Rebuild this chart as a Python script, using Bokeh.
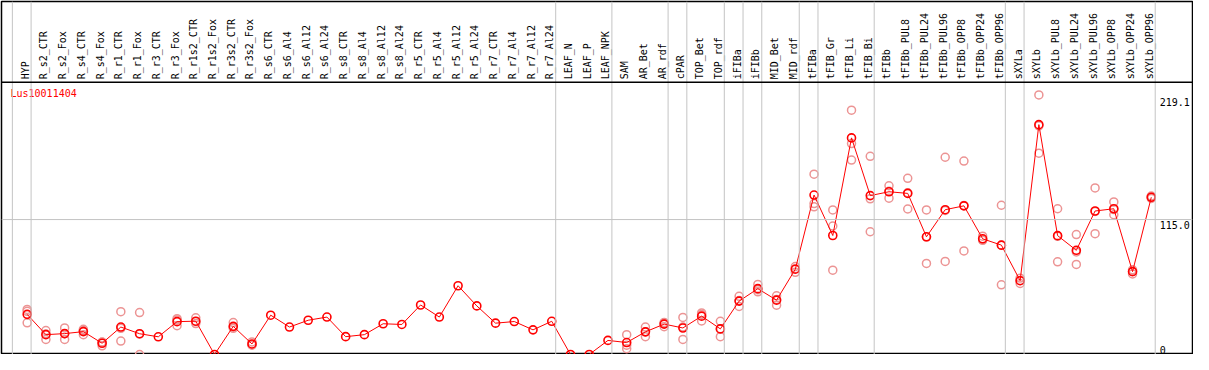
import math
from bokeh.plotting import figure
from bokeh.models import Range1d, Span, ColumnDataSource
from bokeh.core.properties import value
from bokeh.embed import file_html
from bokeh.resources import INLINE

nan = float("nan")

categories = [
    "HYP", "R_s2_CTR", "R_s2_Fox", "R_s4_CTR", "R_s4_Fox", "R_r1_CTR", "R_r1_Fox",
    "R_r3_CTR", "R_r3_Fox", "R_r1s2_CTR", "R_r1s2_Fox", "R_r3s2_CTR", "R_r3s2_Fox",
    "R_s6_CTR", "R_s6_Al4", "R_s6_Al12", "R_s6_Al24", "R_s8_CTR", "R_s8_Al4",
    "R_s8_Al12", "R_s8_Al24", "R_r5_CTR", "R_r5_Al4", "R_r5_Al12", "R_r5_Al24",
    "R_r7_CTR", "R_r7_Al4", "R_r7_Al12", "R_r7_Al24", "LEAF_N", "LEAF_P", "LEAF_NPK",
    "SAM", "AR_Bet", "AR_rdf", "cPAR", "TOP_Bet", "TOP_rdf", "iFIBa", "iFIBb",
    "MID_Bet", "MID_rdf", "tFIBa", "tFIB_Gr", "tFIB_Li", "tFIB_Bi", "tFIBb",
    "tFIBb_PUL8", "tFIBb_PUL24", "tFIBb_PUL96", "tFIBb_OPP8", "tFIBb_OPP24",
    "tFIBb_OPP96", "sXYLa", "sXYLb", "sXYLb_PUL8", "sXYLb_PUL24", "sXYLb_PUL96",
    "sXYLb_OPP8", "sXYLb_OPP24", "sXYLb_OPP96",
]

groups = (["HYP"] + ["ROOT"] * 28 + ["LEAF"] * 3 + ["SAM_AR"] * 3 + ["cPAR"]
          + ["TOP"] * 2 + ["iFIBa"] + ["iFIBb"] + ["MID"] * 2 + ["tFIBa"]
          + ["tFIB_x"] * 3 + ["tFIBb"] * 7 + ["sXYLa"] + ["sXYLb"] * 7)

mean_expr = [
    34.2, 16.9, 17.8, 19.5, 9.6, 23.4, 17.7, 15.1, 28.0, 28.4,
    0.0, 24.0, 9.0, 33.5, 23.4, 29.2, 31.9, 15.2, 16.9, 26.2,
    25.6, 42.2, 31.9, 58.6, 41.4, 26.7, 28.1, 21.0, 28.3, 0.0,
    0.0, 12.0, 10.2, 19.3, 25.9, 22.6, 32.7, 21.8, 45.5, 56.1,
    46.3, 72.7, 135.9, 101.4, 184.6, 135.4, 138.7, 137.3, 100.3, 123.4,
    126.7, 98.6, 93.2, 62.9, 195.9, 101.3, 88.8, 122.3, 124.2, 70.6,
    134.0,
]

rep_a = [
    38.4, 20.4, 22.6, 21.5, 7.4, 36.5, 35.7, nan, 30.5, 31.3,
    nan, 27.2, 8.4, nan, nan, nan, nan, nan, nan, nan,
    nan, nan, nan, nan, nan, nan, nan, nan, nan, nan,
    nan, nan, 16.9, 23.4, 27.3, 31.6, 35.4, 28.3, 49.6, 59.7,
    50.0, 75.0, 153.7, 123.2, 208.2, 168.9, 143.8, 150.1, 123.2, 168.1,
    164.8, 100.8, 127.2, 65.1, 221.2, 124.2, 102.2, 142.0, 130.0, 68.7,
    135.0,
]
rep_b = [
    36.8, 12.8, 12.8, 16.9, 10.6, 11.4, 0.0, nan, 24.5, 26.4,
    nan, 22.3, 7.9, nan, nan, nan, nan, nan, nan, nan,
    nan, nan, nan, nan, nan, nan, nan, nan, nan, nan,
    nan, nan, 7.9, 15.2, 23.7, 12.8, 28.6, 15.2, 40.9, 53.4,
    42.0, 70.0, 125.9, 71.9, 179.8, 104.6, 133.2, 124.0, 77.6, 79.3,
    88.3, 97.3, 59.4, 60.5, 171.6, 79.0, 76.8, 103.0, 119.1, 72.2,
    133.0,
]
rep_c = [
    27.0, 17.5, 17.7, 20.4, 10.5, 22.3, 17.4, nan, 29.3, 28.1,
    nan, 23.4, 10.7, nan, nan, nan, nan, nan, nan, nan,
    nan, nan, nan, nan, nan, nan, nan, nan, nan, nan,
    nan, nan, 5.0, 19.3, 26.7, 23.4, 34.1, 21.9, 46.0, 55.2,
    46.9, 73.1, 128.6, 109.5, 165.7, 132.7, 139.1, 137.8, 100.1, 122.8,
    127.0, 97.7, 93.0, 63.1, 194.9, 100.7, 87.4, 121.9, 123.5, 70.9,
    134.0,
]

y_ticks = [0.0, 115.0, 219.1]
y_tick_labels = ["0", "115.0", "219.1"]
gene_name = "Lus10011404"

# ---------------- layout ----------------
W, H = 1193, 354
HDR = 81                      # header height in px
main_px = H - HDR
y_top = 232.0                 # value at the top of the data area
y_end = y_top * H / main_px
x_start, x_end = -1.37, 62.2

FONT = value("DejaVu Sans Mono")
RED = "#ff0000"
FADED = "#ec9494"
GRAY = "#c4c4c4"

p = figure(width=W, height=H, output_backend="svg", toolbar_location=None,
           x_range=Range1d(x_start, x_end), y_range=Range1d(0, y_end),
           min_border=0, min_border_left=1, min_border_top=1,
           min_border_right=1, min_border_bottom=0)
p.axis.visible = False
p.grid.visible = False
p.outline_line_color = "black"
p.outline_line_width = 1.5
p.background_fill_color = "white"
p.border_fill_color = "white"

idx = list(range(len(categories)))

# group separators
bounds = [-1]
for i in range(len(groups)):
    if i == len(groups) - 1 or groups[i + 1] != groups[i]:
        bounds.append(i)
for b in bounds:
    p.add_layout(Span(location=b + 0.21, dimension="height", line_color=GRAY, line_width=1))

# horizontal grid line at the middle tick
p.add_layout(Span(location=y_ticks[1], dimension="width", line_color=GRAY, line_width=1))
# header separator
p.add_layout(Span(location=y_top, dimension="width", line_color="black", line_width=1.5))

# category labels (vertical)
p.text(x=idx, y=[y_top] * len(idx), text=categories, angle=math.pi / 2,
       text_align="left", text_baseline="middle", x_offset=-2, y_offset=-3,
       text_font=FONT, text_font_size="10px", text_color="black")

# title
p.text(x=[x_start], y=[y_top], text=[gene_name], x_offset=9, y_offset=6,
       text_align="left", text_baseline="top", text_font=FONT,
       text_font_size="10px", text_color=RED)

# value labels at right
lx = len(categories) - 1 + 0.45
p.text(x=[lx, lx], y=y_ticks[1:], text=y_tick_labels[1:], text_align="left",
       text_baseline="top", y_offset=1, text_font=FONT, text_font_size="10px",
       text_color="black")
p.text(x=[lx], y=[y_ticks[0]], text=[y_tick_labels[0]], text_align="left",
       text_baseline="bottom", y_offset=-1, text_font=FONT, text_font_size="10px",
       text_color="black")

# replicates
for reps in (rep_a, rep_b, rep_c):
    xs = [i for i, v in zip(idx, reps) if not math.isnan(v)]
    ys = [v for v in reps if not math.isnan(v)]
    p.scatter(x=xs, y=ys, marker="circle", size=8, fill_color=None,
              line_color=FADED, line_width=1.5)

# mean line and markers
src = ColumnDataSource(dict(x=idx, y=mean_expr))
p.line(x="x", y="y", source=src, line_color=RED, line_width=1)
p.scatter(x="x", y="y", source=src, marker="circle", size=8, fill_color=None,
          line_color=RED, line_width=1.6)

open("out.html", "w").write(file_html(p, INLINE))
